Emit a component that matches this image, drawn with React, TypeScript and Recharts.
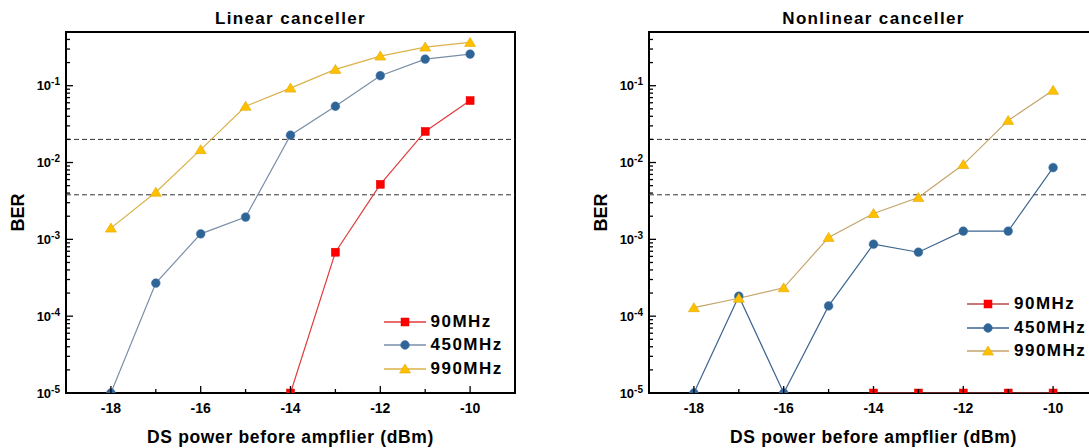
import React from 'react';
import { LineChart, Line, XAxis, YAxis, ReferenceLine, ReferenceArea, Legend } from 'recharts';

// x values (dBm) shared by both panels
const powers = [-18, -17, -16, -15, -14, -13, -12, -11, -10];
const seriesNames = ['90MHz', '450MHz', '990MHz'];

// Linear canceller BER
const linear90 = [null, null, null, null, 1e-5, 6.8e-4, 5.2e-3, 2.54e-2, 6.4e-2];
const linear450 = [1e-5, 2.7e-4, 1.18e-3, 1.95e-3, 2.27e-2, 5.4e-2, 1.35e-1, 2.22e-1, 2.58e-1];
const linear990 = [1.4e-3, 4.1e-3, 1.47e-2, 5.4e-2, 9.3e-2, 1.63e-1, 2.43e-1, 3.18e-1, 3.66e-1];

// Nonlinear canceller BER
const nonlinear90 = [null, null, null, null, 1e-5, 1e-5, 1e-5, 1e-5, 1e-5];
const nonlinear450 = [1e-5, 1.82e-4, 1e-5, 1.36e-4, 8.65e-4, 6.8e-4, 1.28e-3, 1.28e-3, 8.6e-3];
const nonlinear990 = [1.29e-4, 1.71e-4, 2.34e-4, 1.06e-3, 2.17e-3, 3.5e-3, 9.4e-3, 3.53e-2, 8.7e-2];

// FEC thresholds (dashed lines)
const fecLimits = [2e-2, 3.8e-3];

const xTicks = [-18, -17, -16, -15, -14, -13, -12, -11, -10];
const xLabelTicks = [-18, -16, -14, -12, -10];
const yMajorTicks = [1e-5, 1e-4, 1e-3, 1e-2, 1e-1];
const yMinorSteps = [2, 3, 4, 5, 6, 7, 8, 9];
const yTicks = yMajorTicks
  .flatMap((m) => [m, ...yMinorSteps.map((s) => +(m * s).toPrecision(3))])
  .filter((v) => v < 0.45);

const FONT = '"Liberation Sans", Arial, sans-serif';

type Shape = 'square' | 'circle' | 'triangle';

function Marker({ shape, cx, cy, fill, stroke }: { shape: Shape; cx: number; cy: number; fill: string; stroke: string }) {
  if (shape === 'square') {
    return <rect x={cx - 4} y={cy - 4} width={8} height={8} fill={fill} stroke={stroke} strokeWidth={0.5} />;
  }
  if (shape === 'circle') {
    return <circle cx={cx} cy={cy} r={4.4} fill={fill} stroke={stroke} strokeWidth={0.5} />;
  }
  return (
    <polygon
      points={`${cx},${cy - 5} ${cx + 5.5},${cy + 4} ${cx - 5.5},${cy + 4}`}
      fill={fill}
      stroke={stroke}
      strokeWidth={0.6}
    />
  );
}

const shapes: Shape[] = ['square', 'circle', 'triangle'];
const fills = ['#ff0000', '#2f6497', '#ffc000'];
const markerStrokes = ['#e00000', '#4a78a8', '#e0a800'];

const isMajor = (v: number) => Math.abs(Math.log10(v) - Math.round(Math.log10(v))) < 1e-6;

const YTick = (props: any) => {
  const { x, y, payload } = props;
  const v = payload.value;
  const major = isMajor(v);
  return (
    <g>
      <line x1={x} x2={x + (major ? 7 : 4)} y1={y} y2={y} stroke="#000" strokeWidth={1.3} />
      {major && (
        <text x={x - 6} y={y + 4.7} textAnchor="end" fontFamily={FONT} fontWeight="bold" fontSize={13} fill="#000">
          <tspan>10</tspan>
          <tspan dy={-5} fontSize={10}>{Math.round(Math.log10(v))}</tspan>
        </text>
      )}
    </g>
  );
};

const XTick = (props: any) => {
  const { x, y, payload } = props;
  const major = xLabelTicks.includes(payload.value);
  return (
    <g>
      <line x1={x} x2={x} y1={y} y2={y - (major ? 7 : 4)} stroke="#000" strokeWidth={1.3} />
      {major && (
        <text x={x} y={y + 19.5} textAnchor="middle" fontFamily={FONT} fontWeight="bold" fontSize={14} fill="#000">
          {payload.value}
        </text>
      )}
    </g>
  );
};

const berLabel = (props: any) => {
  const vb = props.viewBox;
  const cx = vb.x + vb.width - 48.6;
  const cy = vb.y + vb.height / 2;
  return (
    <text
      x={cx}
      y={cy}
      dy="0.36em"
      transform={`rotate(-90 ${cx} ${cy})`}
      textAnchor="middle"
      fontFamily={FONT}
      fontWeight="bold"
      fontSize={18}
      fill="#000"
    >
      BER
    </text>
  );
};

type PanelProps = {
  title: string;
  values: (number | null)[][];
  lineColors: string[];
  width: number;
  yAxisWidth: number;
  legendLeft: number;
  legendTop: number;
};

function Panel({ title, values, lineColors, width, yAxisWidth, legendLeft, legendTop }: PanelProps) {
  const data = powers.map((x, i) => ({
    x,
    s0: values[0][i],
    s1: values[1][i],
    s2: values[2][i],
  }));

  const legendContent = () => (
    <div style={{ fontFamily: FONT, fontWeight: 'bold', fontSize: 17, letterSpacing: 1.5, color: '#000' }}>
      {seriesNames.map((name, i) => (
        <div key={name} style={{ display: 'flex', alignItems: 'center', height: 23.5 }}>
          <svg width={42} height={14}>
            <line x1={0} x2={42} y1={7} y2={7} stroke={lineColors[i]} strokeWidth={1.5} />
            <Marker shape={shapes[i]} cx={21} cy={7} fill={fills[i]} stroke={markerStrokes[i]} />
          </svg>
          <span style={{ marginLeft: 5, whiteSpace: 'nowrap' }}>{name}</span>
        </div>
      ))}
    </div>
  );

  return (
    <LineChart width={width} height={448} data={data} margin={{ top: 32, right: 34, bottom: 0, left: 0 }}>
      <XAxis
        dataKey="x"
        type="number"
        domain={[-19, -9]}
        ticks={xTicks}
        interval={0}
        allowDataOverflow
        height={55}
        axisLine={false}
        tickLine={false}
        tickSize={0}
        tickMargin={0}
        tick={XTick}
        label={{
          value: 'DS power before ampflier (dBm)',
          position: 'insideBottom',
          offset: 5,
          fill: '#000',
          fontSize: 17.5,
          fontWeight: 'bold',
          fontFamily: FONT,
          letterSpacing: 0.65,
        }}
      />
      <YAxis
        type="number"
        scale="log"
        domain={[1e-5, 0.5]}
        ticks={yTicks}
        interval={0}
        allowDataOverflow
        width={yAxisWidth}
        axisLine={false}
        tickLine={false}
        tickSize={0}
        tickMargin={0}
        tick={YTick}
        label={{ content: berLabel }}
      />
      {fecLimits.map((v) => (
        <ReferenceLine key={v} y={v} stroke="#333" strokeWidth={1} strokeDasharray="5 3" />
      ))}
      <ReferenceArea
        x1={-19}
        x2={-9}
        y1={1e-5}
        y2={0.5}
        fill="none"
        fillOpacity={0}
        stroke="#000"
        strokeWidth={2}
        ifOverflow="visible"
        label={{
          value: title,
          position: 'top',
          offset: 8,
          fill: '#000',
          fontSize: 17,
          fontWeight: 'bold',
          fontFamily: FONT,
          letterSpacing: 1.35,
        }}
      />
      {[0, 1, 2].map((i) => (
        <Line
          key={i}
          dataKey={`s${i}`}
          name={seriesNames[i]}
          stroke={lineColors[i]}
          strokeWidth={1.2}
          isAnimationActive={false}
          activeDot={false}
          dot={(p: any) => {
            const k = `${i}-${p.index}`;
            if (p.cx == null || p.cy == null || p.value == null) return <g key={k} />;
            return (
              <g key={k}>
                <Marker shape={shapes[i]} cx={p.cx} cy={p.cy} fill={fills[i]} stroke={markerStrokes[i]} />
              </g>
            );
          }}
        />
      ))}
      <Legend
        layout="vertical"
        align="center"
        verticalAlign="middle"
        wrapperStyle={{ left: legendLeft, top: legendTop, width: 'auto' }}
        content={legendContent}
      />
    </LineChart>
  );
}

export default function App() {
  return (
    <div style={{ position: 'fixed', left: 0, top: 0, width: 1089, height: 448, overflow: 'hidden', background: '#fff' }}>
      <div style={{ position: 'absolute', left: 0, top: 0 }}>
        <Panel
          title="Linear canceller"
          values={[linear90, linear450, linear990]}
          lineColors={['#e23b3b', '#7a8ea8', '#dbb24a']}
          width={549}
          yAxisWidth={66}
          legendLeft={383.5}
          legendTop={310}
        />
      </div>
      <div style={{ position: 'absolute', left: 549, top: 0 }}>
        <Panel
          title="Nonlinear canceller"
          values={[nonlinear90, nonlinear450, nonlinear990]}
          lineColors={['#b84848', '#3d6590', '#c4a46a']}
          width={583}
          yAxisWidth={100}
          legendLeft={418}
          legendTop={292.5}
        />
      </div>
    </div>
  );
}
